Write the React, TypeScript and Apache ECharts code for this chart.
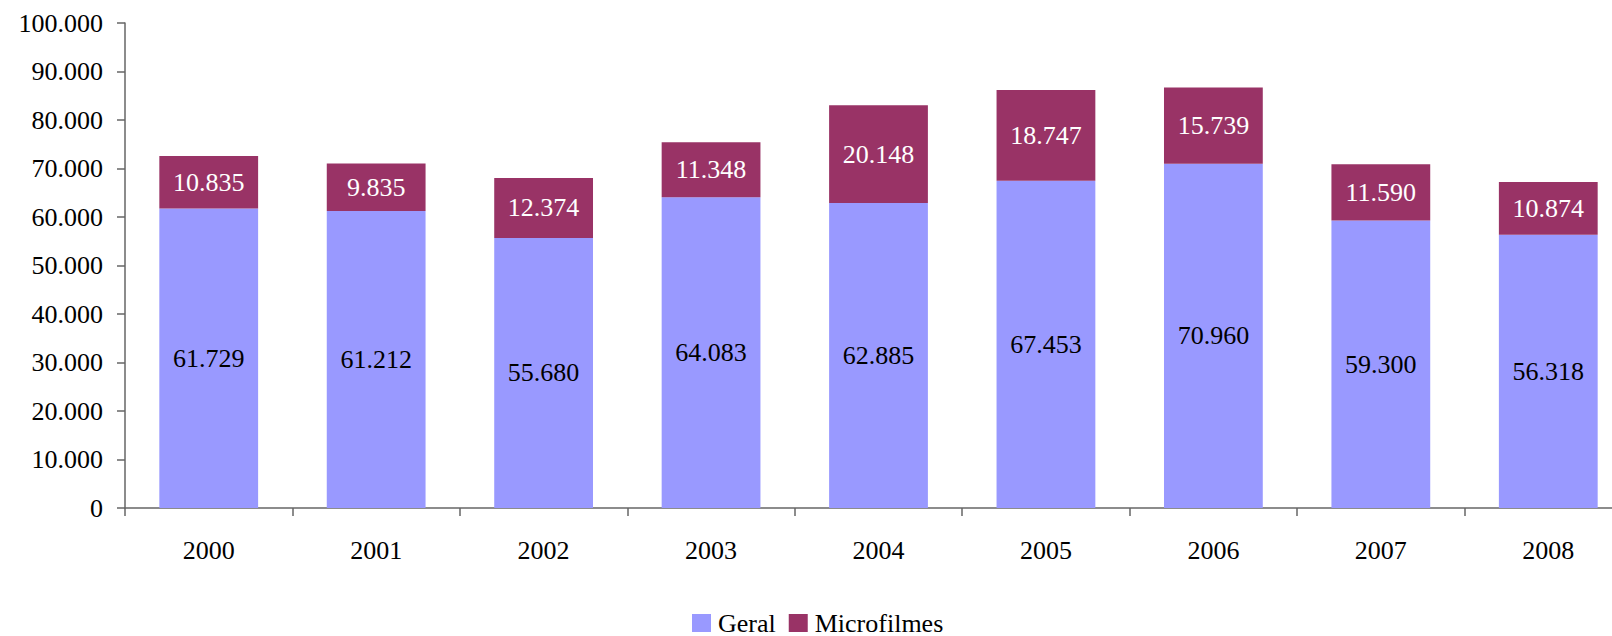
import React, { useEffect, useRef } from "react";
import * as echarts from "echarts";

const categories = ["2000", "2001", "2002", "2003", "2004", "2005", "2006", "2007", "2008"];
const geral = [61729, 61212, 55680, 64083, 62885, 67453, 70960, 59300, 56318];
const microfilmes = [10835, 9835, 12374, 11348, 20148, 18747, 15739, 11590, 10874];
const seriesNames = ["Geral", "Microfilmes"];

const fmt = (v: number) => {
  const s = Math.round(v).toString();
  return s.replace(/\B(?=(\d{3})+(?!\d))/g, ".");
};

const FONT = "'Liberation Serif', 'Times New Roman', serif";

export default function App() {
  const ref = useRef<HTMLDivElement>(null);
  useEffect(() => {
    if (!ref.current) return;
    const chart = echarts.init(ref.current, undefined, { renderer: "svg" });
    chart.setOption({
      animation: false,
      textStyle: { fontFamily: FONT },
      grid: {
        left: 125,
        top: 23,
        bottom: 128,
        width: 1507,
        containLabel: false,
        outerBoundsMode: "none",
      },
      legend: {
        data: seriesNames,
        left: 692,
        top: 610,
        padding: 0,
        itemWidth: 19,
        itemHeight: 18,
        itemGap: 13,
        icon: "rect",
        textStyle: { fontFamily: FONT, fontSize: 26, lineHeight: 26, color: "#000", padding: [0, 0, 0, 2] },
      },
      xAxis: {
        type: "category",
        data: categories,
        axisLine: { lineStyle: { color: "#666", width: 1.5 } },
        axisTick: { show: true, length: 8, lineStyle: { color: "#666", width: 1.5 } },
        axisLabel: { fontFamily: FONT, fontSize: 26, color: "#000", margin: 29 },
      },
      yAxis: {
        type: "value",
        min: 0,
        max: 100000,
        interval: 10000,
        splitLine: { show: false },
        axisLine: { show: true, lineStyle: { color: "#666", width: 1.5 } },
        axisTick: { show: true, length: 8, lineStyle: { color: "#666", width: 1.5 } },
        axisLabel: {
          fontFamily: FONT,
          fontSize: 26,
          color: "#000",
          margin: 22,
          formatter: (v: number) => fmt(v),
        },
      },
      series: [
        {
          name: seriesNames[0],
          type: "bar",
          stack: "total",
          data: geral,
          barCategoryGap: "41%",
          itemStyle: { color: "#9999FF" },
          label: {
            show: true,
            position: "inside",
            fontFamily: FONT,
            fontSize: 26,
            color: "#000",
            formatter: (p: any) => fmt(p.value),
          },
        },
        {
          name: seriesNames[1],
          type: "bar",
          stack: "total",
          data: microfilmes,
          barCategoryGap: "41%",
          itemStyle: { color: "#993366" },
          label: {
            show: true,
            position: "inside",
            fontFamily: FONT,
            fontSize: 26,
            color: "#fff",
            formatter: (p: any) => fmt(p.value),
          },
        },
      ],
    });
    return () => chart.dispose();
  }, []);
  return (
    <div
      ref={ref}
      style={{ position: "absolute", left: 0, top: 0, width: 1612, height: 636 }}
    />
  );
}
